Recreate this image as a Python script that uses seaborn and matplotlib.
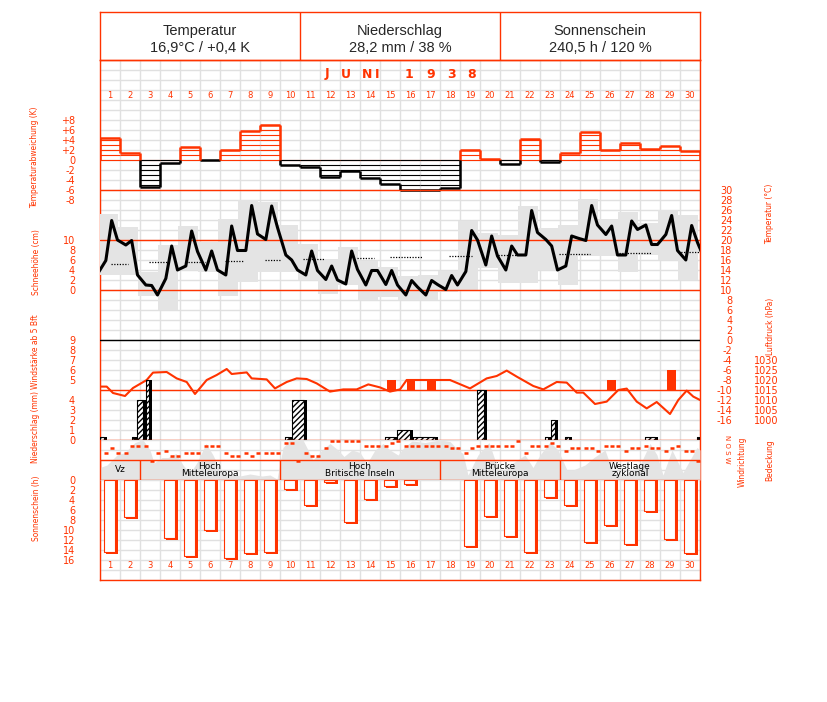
import numpy as np
import pandas as pd
import matplotlib
matplotlib.use("Agg")
import matplotlib.pyplot as plt
import seaborn as sns

RED = "#ff3300"
GREY = "#e4e4e4"
GRID = "#e0e0e0"
W, H = 827, 702

# ---------------- data (June 1938) ----------------
days = np.arange(1, 31)

header_titles = ["Temperatur", "Niederschlag", "Sonnenschein"]
header_values = ["16,9°C / +0,4 K", "28,2 mm / 38 %", "240,5 h / 120 %"]

temp_dev = [4.5, 1.5, -5.5, -0.5, 2.7, 0.0, 2.1, 5.8, 7.1, -0.9,
            -1.3, -3.4, -2.2, -3.5, -4.7, -6.1, -6.1, -5.6, 2.0, 0.2,
            -0.7, 4.2, -0.4, 1.5, 5.7, 2.0, 3.5, 2.2, 2.9, 1.8]

# temperature at the 7h, 14h and 21h readings
temp_07 = [15.9, 19.0, 11.0, 12.3, 14.8, 14.0, 13.0, 17.9, 20.1, 17.0,
           13.0, 12.1, 11.2, 11.0, 11.1, 9.0, 9.0, 10.1, 13.7, 15.0,
           14.0, 17.0, 20.1, 14.8, 19.9, 21.1, 17.0, 23.0, 21.1, 16.0]
temp_14 = [23.9, 19.9, 10.9, 18.8, 21.8, 17.8, 22.8, 26.9, 26.8, 16.0,
           17.8, 14.8, 17.8, 13.9, 13.9, 11.9, 11.9, 12.9, 21.9, 20.8,
           18.8, 25.9, 18.8, 20.8, 26.9, 22.8, 23.8, 19.1, 24.9, 22.9]
temp_21 = [20.0, 13.0, 9.0, 14.0, 17.7, 14.0, 17.9, 21.2, 22.5, 14.0,
           13.9, 12.0, 14.1, 13.9, 11.0, 10.6, 11.1, 11.0, 20.0, 16.8,
           17.0, 21.5, 14.0, 20.4, 23.0, 17.0, 22.1, 19.1, 17.9, 19.5]
temp_may31_21 = 13.2
temp_jul01_07 = 15.5

tmax_day = [25.2, 22.5, 13.5, 19.0, 22.8, 19.5, 24.1, 27.9, 27.5, 23.0,
            19.2, 16.1, 18.5, 15.7, 14.5, 12.8, 13.0, 13.7, 23.7, 21.3,
            21.0, 26.7, 22.3, 23.0, 28.1, 24.1, 25.5, 23.3, 25.9, 25.0]
tmin_day = [13.0, 13.0, 8.8, 6.0, 14.0, 13.5, 8.8, 11.5, 13.5, 13.5,
            12.0, 9.1, 11.0, 8.0, 8.5, 8.0, 8.0, 9.5, 10.0, 14.3,
            11.3, 11.3, 14.0, 11.0, 16.7, 16.7, 13.5, 17.0, 16.0, 12.0]

# long-term mean temperature (dotted pieces)
norm_from = [1.05, 2.95, 4.9, 6.75, 8.75, 10.65, 13.35, 15.0, 17.95, 20.4, 23.45, 26.45, 29.4]
norm_to = [1.9, 3.85, 5.75, 7.65, 9.5, 11.7, 14.2, 16.6, 19.1, 21.35, 25.0, 28.1, 30.5]
norm_temp = [15.2, 15.5, 15.6, 15.8, 15.9, 16.1, 16.3, 16.5, 16.7, 17.0, 17.2, 17.4, 17.6]

# air pressure (time in days, hPa)
pres_t = [0.5, 0.835, 1.15, 1.75, 2.15, 2.835, 3.15, 3.835, 4.335, 4.835,
          5.25, 5.835, 6.335, 6.835, 7.085, 7.835, 8.085, 8.835, 9.25, 9.835,
          10.335, 10.835, 11.335, 12.0, 12.665, 13.335, 13.915, 14.5, 15.0, 15.5,
          15.835, 18.0, 19.0, 19.835, 20.335, 20.835, 21.335, 22.165, 22.665, 23.335,
          23.835, 24.335, 24.665, 25.25, 25.835, 26.415, 26.835, 27.335, 27.835, 28.335,
          29.0, 29.415, 29.835, 30.165, 30.5]
pres_hpa = [1016.7, 1016.7, 1013.5, 1012.0, 1016.0, 1020.0, 1023.7, 1024.0, 1020.8, 1019.0,
            1013.0, 1020.0, 1022.5, 1025.5, 1023.0, 1023.8, 1020.8, 1020.3, 1015.8, 1019.0,
            1020.8, 1020.5, 1018.3, 1014.2, 1015.3, 1015.3, 1017.8, 1016.3, 1014.2, 1015.3,
            1020.0, 1020.0, 1015.8, 1020.8, 1022.0, 1024.7, 1021.7, 1017.0, 1015.3, 1019.0,
            1018.7, 1013.7, 1013.7, 1008.0, 1009.2, 1015.0, 1015.7, 1009.2, 1005.8, 1009.0,
            1003.0, 1010.0, 1014.7, 1011.7, 1010.0]

# wind force of 5 Bft and more
wind_days = [15, 16, 17, 26, 29]
wind_bft = [5, 5, 5, 5, 6]

# precipitation (from, to in days, mm)
precip_from = [0.5, 2.085, 2.365, 2.785, 9.75, 10.085, 14.75, 15.365, 16.135, 19.365,
               22.75, 23.05, 23.75, 27.75, 30.35]
precip_to = [0.835, 2.365, 2.785, 3.085, 10.085, 10.835, 15.365, 16.135, 17.415, 19.83,
             23.05, 23.4, 24.085, 28.4, 30.5]
precip_mm = [0.3, 0.3, 4.0, 6.0, 0.3, 4.0, 0.3, 1.0, 0.3, 5.0,
             0.3, 2.0, 0.3, 0.3, 0.3]

# cloud cover (octas)
cloud_t = [0.5, 0.85, 1.35, 1.75, 2.25, 2.65, 3.0, 3.2, 3.6, 3.9,
           4.3, 4.65, 5.0, 5.35, 5.8, 6.15, 6.5, 7.0, 7.5, 8.0,
           8.6, 9.0, 9.35, 9.65, 10.0, 10.65, 11.15, 11.6, 12.0, 12.4,
           12.7, 13.1, 13.5, 13.85, 14.25, 14.65, 15.0, 15.4, 15.7, 16.1,
           16.75, 17.5, 18.0, 18.4, 18.65, 18.9, 19.4, 19.95, 20.5, 21.0,
           21.75, 22.15, 22.5, 23.0, 23.4, 23.85, 24.15, 24.75, 25.2, 25.75,
           26.15, 26.5, 27.0, 27.5, 28.0, 28.35, 28.65, 29.1, 29.65, 30.0,
           30.35, 30.5]
cloud_octa = [2.5, 3.0, 5.0, 5.5, 7.5, 8.0, 6.0, 3.4, 4.5, 4.5,
              5.3, 3.0, 1.3, 3.5, 7.3, 5.0, 2.0, 1.2, 0.8, 1.2,
              0.8, 1.0, 0.2, 6.5, 8.0, 8.0, 4.0, 6.0, 7.3, 6.0,
              4.7, 6.0, 5.5, 3.3, 6.0, 7.3, 6.0, 5.0, 6.5, 7.8,
              7.5, 8.0, 7.7, 6.0, 5.3, 1.0, 5.0, 7.5, 1.0, 3.0,
              5.0, 2.5, 5.0, 7.6, 6.0, 2.0, 2.0, 3.0, 4.5, 6.0,
              1.5, 1.0, 1.5, 3.0, 7.3, 5.0, 1.0, 6.0, 1.5, 4.0,
              6.5, 6.0]

# wind direction in degrees at 7h, 14h, 21h
wind_dir = [210, 120, 210, 210, 90, 90, 90, 360, 210, 180,
            270, 270, 210, 210, 210, 90, 90, 90, 210, 270,
            270, 210, 270, 210, 210, 210, 210, 30, 30, 360,
            210, 270, 270, 120, 0, 0, 0, 0, 0, 90,
            90, 90, 90, 30, 0, 90, 90, 90, 90, 90,
            90, 90, 120, 120, 210, 120, 90, 90, 90, 90,
            90, 90, 0, 210, 90, 90, 90, 30, 90, 180,
            120, 120, 120, 120, 180, 90, 90, 90, 180, 120,
            120, 90, 120, 120, 180, 120, 90, 180, 180, 360]

# Grosswetterlagen
wt_names = ["Vz", "Hoch\nMitteleuropa", "Hoch\nBritische Inseln", "Brücke\nMitteleuropa", "Westlage\nzyklonal"]
wt_first = [1, 3, 10, 18, 24]
wt_last = [2, 9, 17, 23, 30]

sun_hours = [14.3, 7.3, 0.0, 11.5, 15.2, 9.9, 15.5, 14.5, 14.3, 1.7,
             4.9, 0.3, 8.3, 3.7, 1.2, 0.7, 0.0, 0.0, 13.1, 7.1,
             11.1, 14.4, 3.3, 5.0, 12.4, 9.0, 12.8, 6.1, 11.7, 14.6]
sun_mark_from = [0.5, 13.5, 18.5, 25.65]
sun_mark_to = [5.75, 18.5, 25.65, 30.5]

# ---------------- figure ----------------
sns.set_style("white")
plt.rcParams["font.family"] = ["DejaVu Sans"]
plt.rcParams["axes.unicode_minus"] = False

fig = plt.figure(figsize=(W / 100, H / 100), dpi=100)


def panel(top, bottom, left=100, right=700):
    ax = fig.add_axes([left / W, 1 - bottom / H, (right - left) / W, (bottom - top) / H])
    ax.set_xlim(0.5, 30.5)
    ax.patch.set_alpha(0)
    for s in ax.spines.values():
        s.set_visible(False)
    ax.set_xticks([])
    ax.set_yticks([])
    return ax


def left_ticks(ax, ticks, labels=None):
    ax.set_yticks(ticks, labels if labels is not None else [str(t) for t in ticks])
    ax.tick_params(axis="y", left=False, labelleft=True, labelsize=7,
                   labelcolor=RED, pad=14.4)


def right_ticks(ax, ticks, pad):
    ax.yaxis.tick_right()
    ax.set_yticks(ticks, [str(t) for t in ticks])
    ax.tick_params(axis="y", right=False, labelright=True, labelleft=False,
                   labelsize=7, labelcolor=RED, pad=pad)
    for lbl in ax.get_yticklabels():
        lbl.set_ha("right")


# background grid and frame
ax_bg = panel(60, 580)
ax_bg.set_ylim(580, 60)
ax_bg.set_xticks(np.arange(0.5, 31, 1))
ax_bg.set_yticks(np.arange(60, 581, 10))
ax_bg.grid(True, color=GRID, lw=1)
ax_bg.tick_params(length=0, labelleft=False, labelbottom=False)
for s in ax_bg.spines.values():
    s.set_visible(True)
    s.set_color(RED)
    s.set_linewidth(1)

for d in days:
    ax_bg.text(d, 96, str(d), ha="center", va="center", fontsize=6, color=RED)
    ax_bg.text(d, 566, str(d), ha="center", va="center", fontsize=6, color=RED)
for ch, pos in zip("JUNI1938", [11.85, 12.8, 13.85, 14.35, 15.95, 17.05, 18.05, 19.1]):
    ax_bg.text(pos, 74, ch, ha="center", va="center", fontsize=9,
               fontweight="bold", color=RED)

# cloud cover, wind direction and weather types
ax_band = panel(440, 480)
ax_band.set_ylim(0, 8)
ax_band.fill_between(cloud_t, 0, cloud_octa, color=GREY, lw=0)
for name, first, last in zip(wt_names, wt_first, wt_last):
    ax_band.vlines(first - 0.5, 0, 4, color=RED, lw=1)
    ax_band.text((first + last) / 2, 2, name, ha="center", va="center",
                 fontsize=6.5, linespacing=0.85, color="black")
ax_band.axhline(4, color=RED, lw=1)
ax_band.axhline(0, color=RED, lw=1)

ax_dir = panel(440, 480)
ax_dir.set_ylim(702, -18)
dir_t = (days[:, None] - 0.5 + np.array([7, 14, 21]) / 24).ravel()
ax_dir.plot(dir_t, wind_dir, ls="none", marker="_", ms=3.5, mew=1.8, color=RED)

# temperature deviation
ax_dev = panel(110, 200)
ax_dev.set_ylim(-8, 10)
dev = np.array(temp_dev)
ax_dev.axhline(0, color=RED, lw=0.8)
for d, v in zip(days, dev):
    col = RED if v > 0 else "black"
    sign = 1 if v > 0 else -1
    levels = sign * np.arange(1, int(abs(v)) + 1)
    if len(levels):
        ax_dev.hlines(levels, d - 0.5, d + 0.5, color=col, lw=0.8)
    if v < 0:
        ax_dev.hlines(0, d - 0.5, d + 0.5, color="black", lw=0.8)
    ax_dev.hlines(v, d - 0.5, d + 0.5, color=col, lw=1.8)
for x, a, b in zip(np.arange(0.5, 31, 1), np.r_[0, dev], np.r_[dev, 0]):
    lo, hi = min(a, b), max(a, b)
    if hi > max(lo, 0):
        ax_dev.vlines(x, max(lo, 0), hi, color=RED, lw=1.8)
    if lo < min(hi, 0):
        ax_dev.vlines(x, lo, min(hi, 0), color="black", lw=1.8)
ax_dev.axhline(-6, color=RED, lw=1)
left_ticks(ax_dev, list(range(-8, 9, 2)),
           ["0" if v == 0 else f"{v:+d}" for v in range(-8, 9, 2)])

# temperature
ax_temp = panel(190, 440)
ax_temp.set_ylim(-20, 30)
ax_temp.bar(days - 0.12, np.array(tmax_day) - np.array(tmin_day), bottom=tmin_day,
            width=1, color=GREY, lw=0)
ax_temp.hlines(norm_temp, norm_from, norm_to, colors="black", lw=0.9,
               linestyles=(0, (1, 1.2)))
ax_temp.axhline(20, color=RED, lw=1)
ax_temp.axhline(10, color=RED, lw=1)
ax_temp.axhline(0, color="black", lw=1)
temp_df = pd.DataFrame({
    "t": np.concatenate([days - 0.5 + 7 / 24, days - 0.5 + 14 / 24, days - 0.5 + 21 / 24,
                         [0.5 - 3 / 24, 30.5 + 7 / 24]]),
    "T": temp_07 + temp_14 + temp_21 + [temp_may31_21, temp_jul01_07],
})
sns.lineplot(data=temp_df, x="t", y="T", ax=ax_temp, color="black", lw=2.2)
ax_temp.set_xlabel("")
ax_temp.set_ylabel("")
right_ticks(ax_temp, list(range(-16, 31, 2)), 20)

ax_snow = panel(190, 440)
ax_snow.set_ylim(-30, 20)
left_ticks(ax_snow, list(range(0, 11, 2)))

# air pressure
ax_pres = panel(190, 440)
ax_pres.set_ylim(990, 1115)
ax_pres.axhline(1015, color=RED, lw=1)
sns.lineplot(x=pres_t, y=pres_hpa, ax=ax_pres, color=RED, lw=1.5)
ax_pres.set_xlabel("")
ax_pres.set_ylabel("")
right_ticks(ax_pres, list(range(1000, 1031, 5)), 53)

# wind force
ax_wind = panel(340, 440)
ax_wind.set_ylim(-1, 9)
ax_wind.bar(np.array(wind_days) + 0.05, np.array(wind_bft) - 4, bottom=4,
            width=0.45, color=RED, lw=0)
left_ticks(ax_wind, list(range(5, 10)))

# precipitation
ax_prec = panel(340, 440)
ax_prec.set_ylim(0, 10)
p_from = np.array(precip_from)
p_width = np.array(precip_to) - p_from
ax_prec.bar(p_from, precip_mm, width=p_width, align="edge", color="black", lw=0)
ax_prec.bar(p_from, precip_mm, width=np.maximum(p_width - 0.15, 0.06), align="edge",
            facecolor="white", edgecolor="black", hatch="//////", lw=0.8)
ax_prec.axhline(0, color=RED, lw=1)
left_ticks(ax_prec, list(range(0, 5)))

# sunshine
ax_sun = panel(480, 560)
ax_sun.set_ylim(16, 0)
sun = np.array(sun_hours)
has_sun = sun > 0
ax_sun.bar(days[has_sun] + 0.09, sun[has_sun] + 0.45, width=0.58, color=RED, lw=0)
ax_sun.bar(days[has_sun] - 0.02, sun[has_sun], width=0.58, facecolor="white",
           edgecolor=RED, lw=0.8)
ax_sun.hlines([16.2] * len(sun_mark_from), sun_mark_from, sun_mark_to,
              colors=["black", "black", RED, "black"], lw=0.9, linestyles=(0, (1, 1.2)))
left_ticks(ax_sun, list(range(0, 17, 2)))

# header
ax_head = panel(12, 60)
ax_head.set_xlim(0, 3)
ax_head.set_ylim(0, 1)
for s in ax_head.spines.values():
    s.set_visible(True)
    s.set_color(RED)
    s.set_linewidth(1)
ax_head.axvline(1, color=RED, lw=1)
ax_head.axvline(2, color=RED, lw=1)
for i, (title, value) in enumerate(zip(header_titles, header_values)):
    ax_head.text(i + 0.5, 0.6, title, ha="center", va="center", fontsize=10.5,
                 family=["Liberation Sans", "DejaVu Sans"])
    ax_head.text(i + 0.5, 0.24, value, ha="center", va="center", fontsize=10.5,
                 family=["Liberation Sans", "DejaVu Sans"])

# axis titles
for label, x, y in [("Temperaturabweichung (K)", 35, 157), ("Schneehöhe (cm)", 36, 262),
                    ("Windstärke ab 5 Bft", 36, 352), ("Niederschlag (mm)", 36, 427),
                    ("Sonnenschein (h)", 37, 508), ("Temperatur (°C)", 770, 214),
                    ("Luftdruck (hPa)", 770, 326), ("Windrichtung", 742, 462),
                    ("Bedeckung", 770, 460)]:
    fig.text(x / W, 1 - y / H, label, rotation=90, ha="center", va="center",
             fontsize=6, fontstretch="condensed", color=RED, family="DejaVu Sans")
fig.text(727 / W, 1 - 449 / H, "N O S W", rotation=-90, ha="center", va="center",
         fontsize=5, color=RED)

fig.savefig("out.png", dpi=100)
